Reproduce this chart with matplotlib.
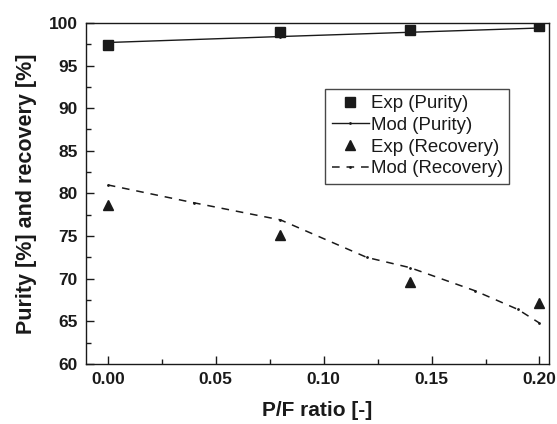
import matplotlib
matplotlib.use("Agg")
import matplotlib.pyplot as plt
from matplotlib.ticker import MultipleLocator, FormatStrFormatter

plt.rcParams['font.family'] = ['Liberation Sans', 'DejaVu Sans']

# Experimental data
pf_exp = [0.00, 0.08, 0.14, 0.20]
purity_exp = [97.4, 98.9, 99.2, 99.6]
recovery_exp = [78.7, 75.1, 69.6, 67.1]

# Model predictions
pf_mod_purity = [0.00, 0.08, 0.14, 0.20]
purity_mod = [97.7, 98.4, 98.9, 99.4]
pf_mod_recovery = [0.00, 0.04, 0.08, 0.12, 0.14, 0.17, 0.19, 0.20]
recovery_mod = [81.0, 78.9, 76.9, 72.5, 71.3, 68.6, 66.4, 64.8]

fig = plt.figure(figsize=(5.57, 4.24), dpi=100)
ax = fig.add_axes([0.154, 0.1415, 0.832, 0.8045])

ink = '#1a1a1a'
ax.plot(pf_exp, purity_exp, 's', color=ink, markersize=6.5, label='Exp (Purity)')
ax.plot(pf_mod_purity, purity_mod, '-', marker='.', markersize=2, color=ink,
        linewidth=1.0, label='Mod (Purity)')
ax.plot(pf_exp, recovery_exp, '^', color=ink, markersize=7.5, label='Exp (Recovery)')
ax.plot(pf_mod_recovery, recovery_mod, '--', marker='.', markersize=2, color=ink,
        linewidth=1.1, dashes=(5, 4.5), label='Mod (Recovery)')

ax.set_xlim(-0.0102, 0.2045)
ax.set_ylim(60, 100)
ax.xaxis.set_major_locator(MultipleLocator(0.05))
ax.xaxis.set_minor_locator(MultipleLocator(0.025))
ax.yaxis.set_major_locator(MultipleLocator(5))
ax.yaxis.set_minor_locator(MultipleLocator(2.5))
ax.xaxis.set_major_formatter(FormatStrFormatter('%.2f'))

ax.tick_params(which='both', direction='in', colors=ink, width=1.0)
ax.tick_params(which='major', length=6, labelsize=12.5, pad=6)
ax.tick_params(which='minor', length=3.5)
for lab in ax.get_xticklabels() + ax.get_yticklabels():
    lab.set_fontweight('bold')
for sp in ax.spines.values():
    sp.set_color(ink)
    sp.set_linewidth(1.0)

ax.set_xlabel('P/F ratio [-]', fontsize=15, fontweight='bold', color=ink, labelpad=10)
ax.set_ylabel('Purity [%] and recovery [%]', fontsize=15.5, fontweight='bold',
              color=ink, labelpad=8)

leg = ax.legend(loc='upper right', bbox_to_anchor=(0.914, 0.807), borderaxespad=0,
                fontsize=13.4, numpoints=1, fancybox=False, frameon=True,
                handlelength=2.0, handletextpad=0.1, labelspacing=0.25,
                borderpad=0.35)
leg.get_frame().set_edgecolor(ink)
leg.get_frame().set_linewidth(1.0)
for t in leg.get_texts():
    t.set_color(ink)

fig.savefig('out.png', dpi=100)
